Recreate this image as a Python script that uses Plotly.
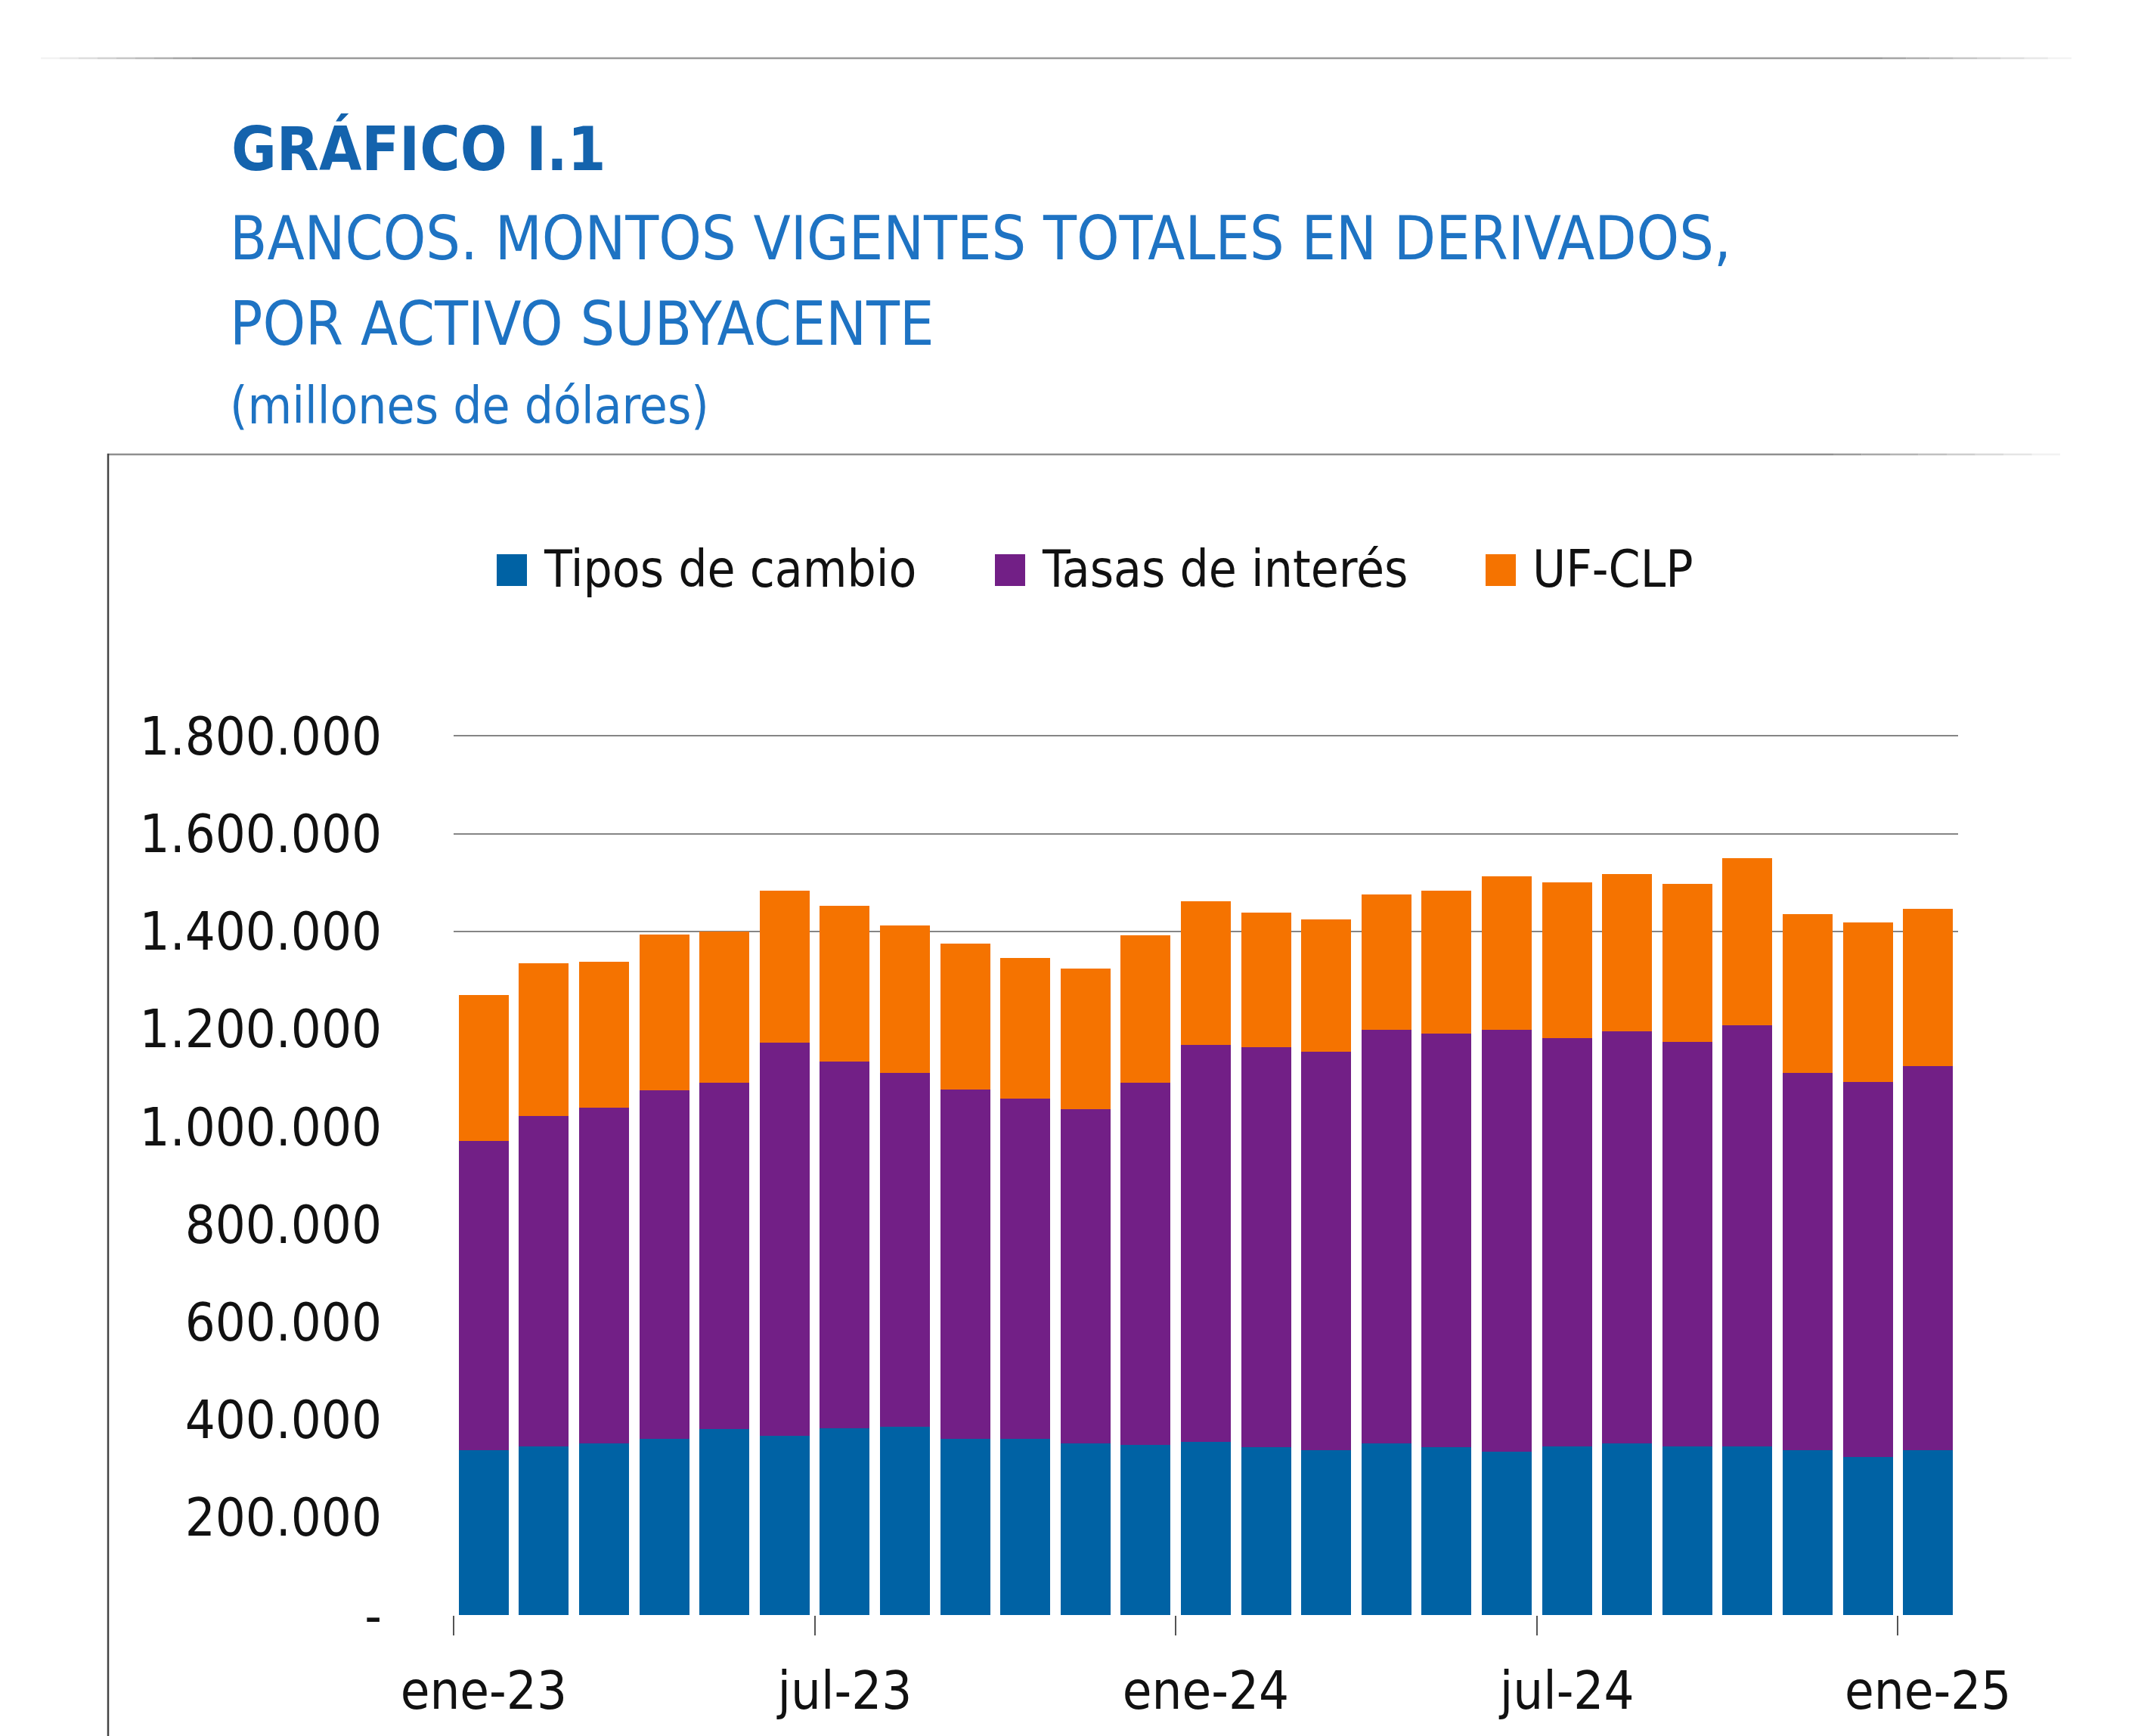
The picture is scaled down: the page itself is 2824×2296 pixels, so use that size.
import plotly.graph_objects as go

# ---------------- data (millones de dólares) ----------------
months = ["ene-23", "feb-23", "mar-23", "abr-23", "may-23", "jun-23", "jul-23", "ago-23",
          "sep-23", "oct-23", "nov-23", "dic-23", "ene-24", "feb-24", "mar-24", "abr-24",
          "may-24", "jun-24", "jul-24", "ago-24", "sep-24", "oct-24", "nov-24", "dic-24", "ene-25"]

tipos_de_cambio = [338000, 346000, 352000, 361000, 381000, 367000, 382000, 385000, 361000,
                   361000, 352000, 348000, 354000, 343000, 338000, 352000, 343000, 334000,
                   345000, 352000, 345000, 345000, 338000, 323000, 338000]
tasas_de_interes = [633000, 676000, 687000, 713000, 709000, 805000, 752000, 725000, 715000,
                    697000, 684000, 742000, 814000, 820000, 815000, 847000, 847000, 865000,
                    837000, 844000, 829000, 863000, 772000, 769000, 786000]
uf_clp = [298000, 312000, 299000, 320000, 310000, 312000, 318000, 302000, 299000,
          287000, 288000, 302000, 294000, 276000, 272000, 277000, 293000, 314000,
          319000, 321000, 324000, 342000, 326000, 326000, 322000]

series_names = ["Tipos de cambio", "Tasas de interés", "UF-CLP"]
series_colors = ["#0062a4", "#721f86", "#f57300"]

y_tick_vals = [0, 200000, 400000, 600000, 800000, 1000000, 1200000, 1400000, 1600000, 1800000]
y_tick_text = ["-", "200.000", "400.000", "600.000", "800.000", "1.000.000", "1.200.000",
               "1.400.000", "1.600.000", "1.800.000"]
y_grid_vals = [1400000, 1600000, 1800000]
y_max = 1810000
label_step = 6

title_main = "GRÁFICO I.1"
title_lines = ["BANCOS. MONTOS VIGENTES TOTALES EN DERIVADOS,", "POR ACTIVO SUBYACENTE"]
title_units = "(millones de dólares)"

# ---------------- geometry ----------------
W, H = 2824, 2296
L, R, T, B = 600, 234, 967, 160
PW, PH = W - L - R, H - T - B
FONT = "DejaVu Sans Condensed, DejaVu Sans, sans-serif"


def px(x):
    return (x - L) / PW


def py(y):
    return (H - B - y) / PH


idx = list(range(len(months)))
label_idx = idx[::label_step]
boundaries = [i - 0.5 for i in label_idx]

fig = go.Figure()
series = [tipos_de_cambio, tasas_de_interes, uf_clp]
for name, vals, col in zip(series_names, series, series_colors):
    fig.add_trace(go.Bar(x=idx, y=vals, name=name, marker=dict(color=col, line=dict(width=0)),
                         showlegend=False))
fig.add_trace(go.Scatter(x=[None], y=[None], yaxis="y2", showlegend=False, hoverinfo="skip"))

shapes = []
annotations = []


def faded_line(x0, x1, y, color, width, fade_left, fade_right, steps=8):
    out = [dict(type="line", xref="paper", yref="paper", x0=px(x0 + fade_left), x1=px(x1 - fade_right),
                y0=py(y), y1=py(y), line=dict(color=color, width=width))]
    if fade_left:
        seg = fade_left / steps
        for k in range(steps):
            out.append(dict(type="line", xref="paper", yref="paper", x0=px(x0 + k * seg),
                            x1=px(x0 + (k + 1) * seg), y0=py(y), y1=py(y), opacity=(k + 1) / (steps + 1),
                            line=dict(color=color, width=width)))
    if fade_right:
        seg = fade_right / steps
        for k in range(steps):
            out.append(dict(type="line", xref="paper", yref="paper", x0=px(x1 - (k + 1) * seg),
                            x1=px(x1 - k * seg), y0=py(y), y1=py(y), opacity=(k + 1) / (steps + 1),
                            line=dict(color=color, width=width)))
    return out


shapes += faded_line(54, 2740, 77, "#9a9a9a", 2.5, 200, 250)
shapes += faded_line(142, 2725, 601, "#8f8f8f", 2.5, 0, 300)
shapes.append(dict(type="line", xref="paper", yref="paper", x0=px(143), x1=px(143), y0=py(600), y1=py(H),
                   line=dict(color="#444444", width=2.5)))

# titles
annotations.append(dict(text="<b>" + title_main + "</b>", x=px(304), y=py(197), xref="paper", yref="paper",
                        xanchor="left", yanchor="middle", showarrow=False,
                        font=dict(family=FONT, size=81, color="#1463ad")))
for i, line in enumerate(title_lines):
    annotations.append(dict(text=line, x=px(302), y=py(316 + 112 * i), xref="paper", yref="paper",
                            xanchor="left", yanchor="middle", showarrow=False,
                            font=dict(family=FONT, size=80, color="#1e73c3")))
annotations.append(dict(text=title_units, x=px(302), y=py(537), xref="paper", yref="paper",
                        xanchor="left", yanchor="middle", showarrow=False,
                        font=dict(family=FONT, size=67, color="#1e73c3")))

# custom legend
legend_x = [657, 1316, 1965]
for name, col, lx in zip(series_names, series_colors, legend_x):
    shapes.append(dict(type="rect", xref="paper", yref="paper", x0=px(lx), x1=px(lx + 40),
                       y0=py(775), y1=py(733), fillcolor=col, line=dict(width=0)))
    annotations.append(dict(text=name, x=px(lx + 60), y=py(753), xref="paper", yref="paper",
                            xanchor="left", yanchor="middle", showarrow=False,
                            font=dict(family=FONT, size=67, color="#111111")))

fig.update_layout(
    width=W, height=H,
    margin=dict(l=L, r=R, t=T, b=B, pad=0),
    paper_bgcolor="white", plot_bgcolor="white",
    barmode="stack", bargap=0.17,
    showlegend=False,
    shapes=shapes, annotations=annotations,
    font=dict(family=FONT, color="#111111"),
    xaxis=dict(
        type="linear", range=[-0.5, len(months) - 0.5],
        tickmode="array", tickvals=label_idx, ticktext=[months[i] for i in label_idx],
        ticks="", showgrid=False, zeroline=False, showline=False,
        tickfont=dict(family=FONT, size=70, color="#111111"),
        ticklabelstandoff=53,
        minor=dict(tickmode="array", tickvals=boundaries, ticks="outside", ticklen=26,
                   tickwidth=2, tickcolor="#555555", showgrid=False),
    ),
    yaxis=dict(
        range=[0, y_max], tickmode="array", tickvals=y_tick_vals, ticktext=y_tick_text,
        ticks="", showgrid=False, zeroline=False, showline=False,
        tickfont=dict(family=FONT, size=70, color="#111111"),
        ticklabelstandoff=94,
    ),
    yaxis2=dict(
        overlaying="y", side="right", range=[0, y_max], tickmode="array", tickvals=y_grid_vals,
        showticklabels=False, ticks="", showgrid=True, gridcolor="#858585", gridwidth=2,
        zeroline=False, showline=False,
    ),
)

fig.write_html("out.html", config={"displayModeBar": False},
               post_script="document.body.style.margin='0px';")
